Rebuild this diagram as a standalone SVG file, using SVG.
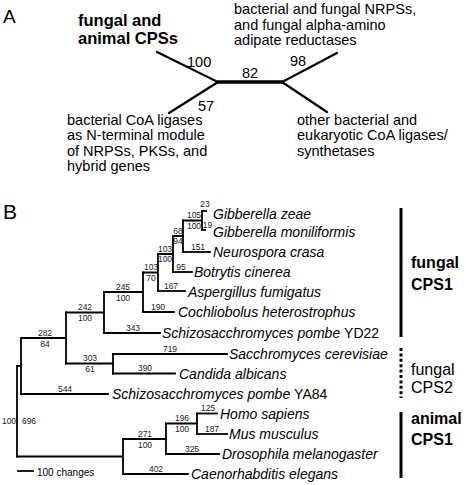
<svg xmlns="http://www.w3.org/2000/svg" width="466" height="485" viewBox="0 0 466 485">
<style>
text{font-family:"Liberation Sans",Arial,Helvetica,sans-serif;fill:#000}
.panel{font-size:19px}
.lbl{font-size:14.5px}
.bold{font-weight:bold;font-size:16.5px}
.sp{font-size:14px;font-style:italic}
.up{font-style:normal}
.bl{font-size:8.5px;fill:#222;text-anchor:middle}
.clade{font-size:16px}
.cb{font-weight:bold}
.br{fill:none;stroke:#000;stroke-width:1.8;stroke-linecap:square}
.ua{fill:none;stroke:#000;stroke-width:2.2;stroke-linecap:round}
.bar{fill:none;stroke:#000;stroke-width:3}
</style>
<rect width="466" height="485" fill="#fff"/>

<!-- Panel A -->
<text class="panel" x="3" y="23">A</text>
<g id="A-connectors">
<path class="ua" d="M157 52 L218 82 L169 113"/>
<path class="ua" d="M337 53 L282 82 L327 112"/>
<path class="ua" d="M218 82 H282" style="stroke-width:3.4"/>
</g>
<g id="A-support">
<text class="lbl" x="187" y="67">100</text>
<text class="lbl" x="242" y="78">82</text>
<text class="lbl" x="290" y="66">98</text>
<text class="lbl" x="198" y="111">57</text>
</g>
<g id="A-cps">
<text class="bold" x="78" y="26">fungal and</text>
<text class="bold" x="78" y="44">animal CPSs</text>
</g>
<g id="A-nrps">
<text class="lbl" x="234" y="14">bacterial and fungal NRPSs,</text>
<text class="lbl" x="234" y="29.5">and fungal alpha-amino</text>
<text class="lbl" x="234" y="45">adipate reductases</text>
</g>
<g id="A-coa-nterm">
<text class="lbl" x="67" y="124.5">bacterial CoA ligases</text>
<text class="lbl" x="67" y="140">as N-terminal module</text>
<text class="lbl" x="67" y="155.5">of NRPSs, PKSs, and</text>
<text class="lbl" x="67" y="171">hybrid genes</text>
</g>
<g id="A-coa-other">
<text class="lbl" x="297" y="124.5">other bacterial and</text>
<text class="lbl" x="297" y="140">eukaryotic CoA ligases/</text>
<text class="lbl" x="297" y="155.5">synthetases</text>
</g>

<!-- Panel B -->
<text class="panel" x="3" y="219" style="font-size:21px">B</text>
<g id="B-connectors">
<!-- leaves -->
<path class="br" d="M202 211 H206"/>
<path class="br" d="M202 230 H205"/>
<path class="br" d="M183 252 H210"/>
<path class="br" d="M173 272 H192"/>
<path class="br" d="M158 291 H185"/>
<path class="br" d="M143 312 H174"/>
<path class="br" d="M104 333 H160"/>
<path class="br" d="M113 354 H227"/>
<path class="br" d="M113 373.5 H175"/>
<path class="br" d="M21 394 H108"/>
<path class="br" d="M197 413.5 H217"/>
<path class="br" d="M197 434 H227"/>
<path class="br" d="M166 454 H219"/>
<path class="br" d="M123 474 H188"/>
<!-- internal -->
<path class="br" d="M202 211 V230 M183 220.5 H202"/>
<path class="br" d="M183 220.5 V252 M173 236 H183"/>
<path class="br" d="M173 236 V272 M158 254 H173"/>
<path class="br" d="M158 254 V291 M143 272.5 H158"/>
<path class="br" d="M143 272.5 V312 M104 292 H143"/>
<path class="br" d="M104 292 V333 M66 312.5 H104"/>
<path class="br" d="M113 354 V373.5 M66 363.5 H113"/>
<path class="br" d="M66 312.5 V363.5 M21 338 H66"/>
<path class="br" d="M21 338 V394 M17 366 H21"/>
<path class="br" d="M197 413.5 V434 M166 423.5 H197"/>
<path class="br" d="M166 423.5 V454 M123 439 H166"/>
<path class="br" d="M123 439 V474 M17 456.5 H123"/>
<path class="br" d="M17 366 V456.5"/>
</g>
<g id="B-branch-labels">
<text class="bl" x="205" y="207">23</text>
<text class="bl" x="207.5" y="227.5">19</text>
<text class="bl" x="194" y="218">105</text>
<text class="bl" x="194" y="228.5">100</text>
<text class="bl" x="178" y="233.5">68</text>
<text class="bl" x="178" y="244">94</text>
<text class="bl" x="198" y="249.5">151</text>
<text class="bl" x="165" y="251.5">103</text>
<text class="bl" x="165" y="262">100</text>
<text class="bl" x="181" y="269.5">95</text>
<text class="bl" x="171" y="288.5">167</text>
<text class="bl" x="151" y="270">103</text>
<text class="bl" x="151" y="281">70</text>
<text class="bl" x="158" y="309.5">190</text>
<text class="bl" x="123" y="289.5">245</text>
<text class="bl" x="123" y="300.5">100</text>
<text class="bl" x="133" y="330.5">343</text>
<text class="bl" x="85" y="310">242</text>
<text class="bl" x="85" y="321">100</text>
<text class="bl" x="170" y="351.5">719</text>
<text class="bl" x="145" y="371">390</text>
<text class="bl" x="90" y="361">303</text>
<text class="bl" x="90" y="372">61</text>
<text class="bl" x="45" y="335.5">282</text>
<text class="bl" x="45" y="346.5">84</text>
<text class="bl" x="65" y="391.5">544</text>
<text class="bl" x="208" y="411">125</text>
<text class="bl" x="212" y="431.5">187</text>
<text class="bl" x="182" y="421">196</text>
<text class="bl" x="182" y="432">100</text>
<text class="bl" x="192" y="451.5">325</text>
<text class="bl" x="145" y="436.5">271</text>
<text class="bl" x="145" y="447.5">100</text>
<text class="bl" x="156" y="471.5">402</text>
<text class="bl" x="9" y="424">100</text>
<text class="bl" x="29" y="424">696</text>
</g>
<g id="leaf-gz"><text class="sp" x="213" y="218.5">Gibberella zeae</text></g>
<g id="leaf-gm"><text class="sp" x="213" y="237">Gibberella moniliformis</text></g>
<g id="leaf-nc"><text class="sp" x="213" y="257">Neurospora crasa</text></g>
<g id="leaf-bc"><text class="sp" x="194" y="277">Botrytis cinerea</text></g>
<g id="leaf-af"><text class="sp" x="188" y="296.5">Aspergillus fumigatus</text></g>
<g id="leaf-ch"><text class="sp" x="178" y="317">Cochliobolus heterostrophus</text></g>
<g id="leaf-sp1"><text class="sp" x="162" y="338">Schizosacchromyces pombe <tspan class="up">YD22</tspan></text></g>
<g id="leaf-sc"><text class="sp" x="229" y="359">Sacchromyces cerevisiae</text></g>
<g id="leaf-ca"><text class="sp" x="179" y="378.5">Candida albicans</text></g>
<g id="leaf-sp2"><text class="sp" x="112" y="399">Schizosacchromyces pombe <tspan class="up">YA84</tspan></text></g>
<g id="leaf-hs"><text class="sp" x="220" y="418.5">Homo sapiens</text></g>
<g id="leaf-mm"><text class="sp" x="229" y="439">Mus musculus</text></g>
<g id="leaf-dm"><text class="sp" x="222" y="459">Drosophila melanogaster</text></g>
<g id="leaf-ce"><text class="sp" x="191" y="479">Caenorhabditis elegans</text></g>

<g id="clade-fungal-cps1">
<path class="bar" d="M401 208 V337"/>
<text class="clade cb" x="411" y="268">fungal</text>
<text class="clade cb" x="411" y="290">CPS1</text>
</g>
<g id="clade-fungal-cps2">
<path class="bar" d="M401 348 V398" stroke-dasharray="3 2.4"/>
<text class="clade" x="411" y="375">fungal</text>
<text class="clade" x="411" y="393">CPS2</text>
</g>
<g id="clade-animal-cps1">
<path class="bar" d="M401 412 V478"/>
<text class="clade cb" x="411" y="424">animal</text>
<text class="clade cb" x="411" y="445">CPS1</text>
</g>
<g id="scale-bar">
<path class="br" d="M18 471 H33"/>
<text x="37" y="476" style="font-size:10px">100 changes</text>
</g>
</svg>
